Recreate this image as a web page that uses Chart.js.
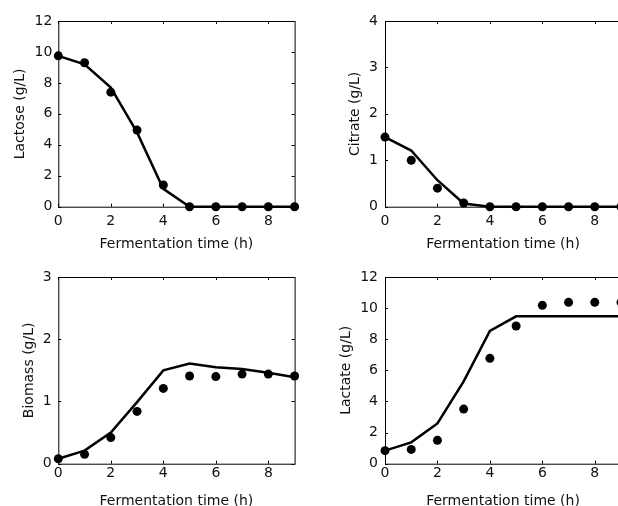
<!DOCTYPE html>
<html>
<head>
<meta charset="utf-8">
<script src="https://cdn.jsdelivr.net/npm/chart.js@4.4.0/dist/chart.umd.min.js"></script>
<style>
  html, body { margin: 0; padding: 0; background: #fff; }
  body { width: 618px; height: 506px; position: relative; overflow: hidden; }
  canvas { position: absolute; }
</style>
</head>
<body>
<canvas id="lactose" width="309" height="253" style="left:0;top:0"></canvas>
<canvas id="citrate" width="320" height="253" style="left:309px;top:0"></canvas>
<canvas id="biomass" width="309" height="260" style="left:0;top:253px"></canvas>
<canvas id="lactate" width="320" height="260" style="left:309px;top:253px"></canvas>
<script>
// fermentation hours
const hours = [0, 1, 2, 3, 4, 5, 6, 7, 8, 9];
const xTicks = [0, 2, 4, 6, 8];

// measured (dots) and model (line) values, g/L
const lactoseMeasured = [9.75, 9.3, 7.4, 4.95, 1.4, 0, 0, 0, 0, 0];
const lactoseModel    = [9.75, 9.2, 7.7, 4.8, 1.15, 0, 0, 0, 0, 0];
const lactoseTicks = [0, 2, 4, 6, 8, 10, 12];

const citrateMeasured = [1.5, 1.0, 0.4, 0.08, 0, 0, 0, 0, 0, 0];
const citrateModel    = [1.5, 1.21, 0.57, 0.07, 0, 0, 0, 0, 0, 0];
const citrateTicks = [0, 1, 2, 3, 4];

const biomassMeasured = [0.08, 0.15, 0.42, 0.84, 1.21, 1.41, 1.4, 1.44, 1.44, 1.41];
const biomassModel    = [0.08, 0.21, 0.5, 0.99, 1.5, 1.61, 1.55, 1.52, 1.46, 1.39];
const biomassTicks = [0, 1, 2, 3];

const lactateMeasured = [0.84, 0.92, 1.5, 3.51, 6.77, 8.85, 10.18, 10.37, 10.37, 10.37];
const lactateModel    = [0.84, 1.37, 2.59, 5.29, 8.53, 9.47, 9.47, 9.47, 9.47, 9.47];
const lactateTicks = [0, 2, 4, 6, 8, 10, 12];

Chart.defaults.font.family = 'DejaVu Sans';
Chart.defaults.font.size = 14;
Chart.defaults.color = '#111';

// matlab-like box with inward ticks on all sides
const boxPlugin = {
  id: 'box',
  beforeDatasetsDraw(chart) {
    const ctx = chart.ctx;
    const a = chart.chartArea;
    const xs = chart.scales.x, ys = chart.scales.y;
    ctx.save();
    ctx.strokeStyle = '#000';
    ctx.lineWidth = 1;
    ctx.strokeRect(a.left + 0.5, a.top + 0.5, a.right - a.left, a.bottom - a.top);
    ctx.beginPath();
    xs.ticks.forEach(t => {
      const px = Math.round(xs.getPixelForValue(t.value)) + 0.5;
      ctx.moveTo(px, a.bottom); ctx.lineTo(px, a.bottom - 3);
      ctx.moveTo(px, a.top); ctx.lineTo(px, a.top + 3);
    });
    ys.ticks.forEach(t => {
      const py = Math.round(ys.getPixelForValue(t.value)) + 0.5;
      ctx.moveTo(a.left, py); ctx.lineTo(a.left + 3, py);
      ctx.moveTo(a.right, py); ctx.lineTo(a.right - 3, py);
    });
    ctx.stroke();
    ctx.restore();
  }
};

function makePanel(id, label, measured, model, yTicks, lay) {
  new Chart(document.getElementById(id), {
    type: 'line',
    data: {
      datasets: [
        {
          data: hours.map((h, i) => ({ x: h, y: model[i] })),
          borderColor: '#000',
          borderWidth: 2.5,
          pointRadius: 0,
          tension: 0,
          clip: false
        },
        {
          data: hours.map((h, i) => ({ x: h, y: measured[i] })),
          showLine: false,
          pointRadius: 4.5,
          pointBackgroundColor: '#000',
          pointBorderWidth: 0,
          clip: false
        }
      ]
    },
    options: {
      responsive: false,
      animation: false,
      devicePixelRatio: 1,
      layout: { padding: { left: 0, top: lay.top, right: lay.right, bottom: 0 } },
      plugins: { legend: { display: false }, tooltip: { enabled: false } },
      scales: {
        x: {
          type: 'linear',
          min: 0,
          max: 9,
          grid: { display: false, drawTicks: false },
          border: { display: false },
          afterBuildTicks: s => { s.ticks = xTicks.map(v => ({ value: v })); },
          afterFit: s => { s.height = lay.xh; },
          ticks: { padding: lay.xpad, maxRotation: 0, autoSkip: false },
          title: { display: true, text: 'Fermentation time (h)', padding: { top: 0, bottom: lay.xtitle } }
        },
        y: {
          min: yTicks[0],
          max: yTicks[yTicks.length - 1],
          grid: { display: false, drawTicks: false },
          border: { display: false },
          afterBuildTicks: s => { s.ticks = yTicks.map(v => ({ value: v })); },
          afterFit: s => { s.width = lay.yw; },
          ticks: { padding: lay.ypad, autoSkip: false },
          title: { display: true, text: label, padding: { top: lay.ytitle, bottom: 0 } }
        }
      }
    },
    plugins: [boxPlugin]
  });
}

makePanel('lactose', 'Lactose (g/L)', lactoseMeasured, lactoseModel, lactoseTicks,
  { top: 21, right: 14.4, yw: 58.3, xh: 46.3, xpad: 5.9, ypad: 6, ytitle: 12, xtitle: 0.3 });
makePanel('citrate', 'Citrate (g/L)', citrateMeasured, citrateModel, citrateTicks,
  { top: 21, right: 8, yw: 76, xh: 46.3, xpad: 5.9, ypad: 7, ytitle: 37.5, xtitle: 0.3 });
makePanel('biomass', 'Biomass (g/L)', biomassMeasured, biomassModel, biomassTicks,
  { top: 24, right: 14.4, yw: 58.3, xh: 49.3, xpad: 1, ypad: 6.6, ytitle: 20.8, xtitle: 3.6 });
makePanel('lactate', 'Lactate (g/L)', lactateMeasured, lactateModel, lactateTicks,
  { top: 24, right: 8, yw: 76, xh: 49.3, xpad: 1, ypad: 7, ytitle: 29, xtitle: 3.6 });
</script>
</body>
</html>
